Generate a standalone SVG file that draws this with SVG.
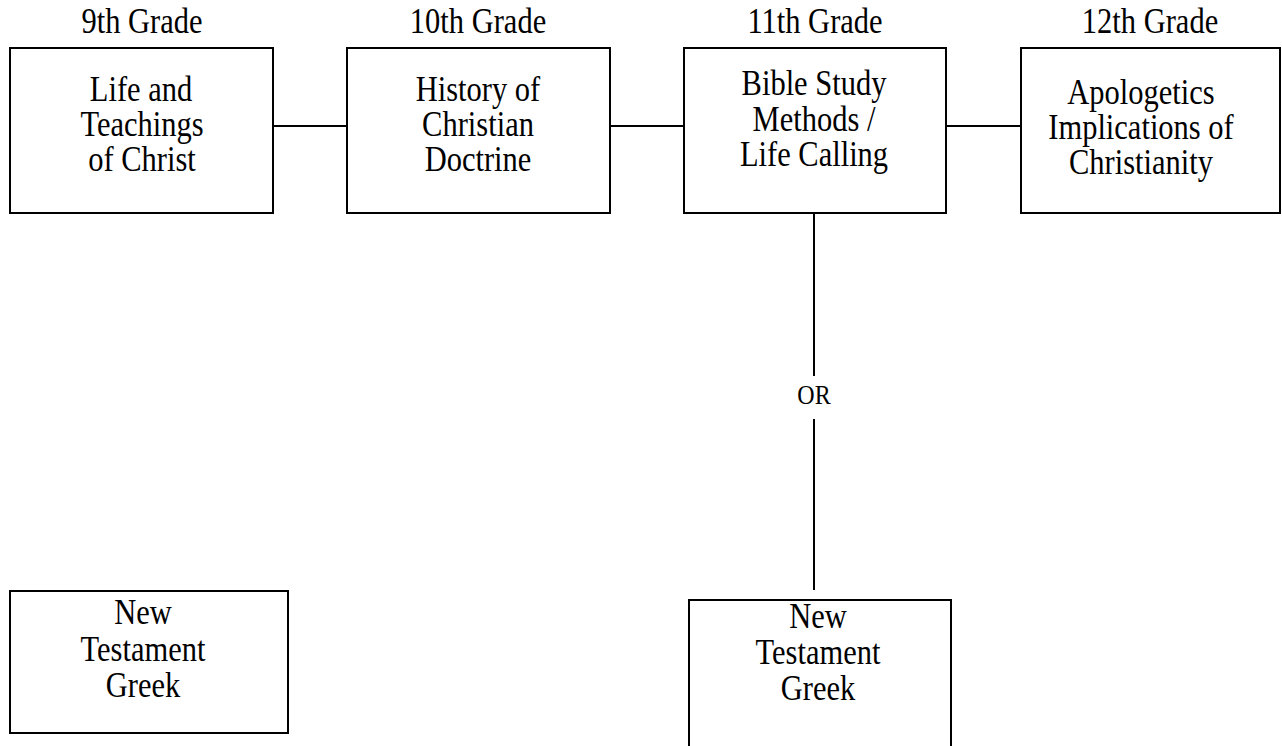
<svg xmlns="http://www.w3.org/2000/svg" width="1282" height="746" viewBox="0 0 1282 746">
<style>
  .box { fill: #ffffff; stroke: #000000; stroke-width: 2; }
  .conn { stroke: #000000; stroke-width: 2; fill: none; }
  text { font-family: "Liberation Serif", "Times New Roman", serif; fill: #000000; text-anchor: middle; }
  .t { font-size: 30.5px; }
  .or { font-size: 24px; }
</style>
<rect x="0" y="0" width="1282" height="746" fill="#ffffff"/>
<g id="labels">
  <text class="t" transform="matrix(1 0 0 1.15 142 33)">9th Grade</text>
  <text class="t" transform="matrix(1 0 0 1.15 478 33)">10th Grade</text>
  <text class="t" transform="matrix(1 0 0 1.15 815 33)">11th Grade</text>
  <text class="t" transform="matrix(1 0 0 1.15 1150 33)">12th Grade</text>
</g>
<g id="connectors">
  <line class="conn" x1="273" y1="126" x2="347" y2="126"/>
  <line class="conn" x1="610" y1="126" x2="684" y2="126"/>
  <line class="conn" x1="946" y1="126" x2="1021" y2="126"/>
  <line class="conn" x1="814" y1="213" x2="814" y2="376"/>
  <line class="conn" x1="814" y1="419" x2="814" y2="590"/>
  <text class="or" transform="matrix(1 0 0 1.15 814 404)">OR</text>
</g>
<g id="node-life">
  <rect class="box" x="10" y="48" width="263" height="165"/>
  <text class="t" transform="matrix(1 0 0 1.15 141 101)">Life and</text>
  <text class="t" transform="matrix(1 0 0 1.15 142 136)">Teachings</text>
  <text class="t" transform="matrix(1 0 0 1.15 142 171)">of Christ</text>
</g>
<g id="node-history">
  <rect class="box" x="347" y="48" width="263" height="165"/>
  <text class="t" transform="matrix(1 0 0 1.15 478 101)">History of</text>
  <text class="t" transform="matrix(1 0 0 1.15 478 136)">Christian</text>
  <text class="t" transform="matrix(1 0 0 1.15 478 171)">Doctrine</text>
</g>
<g id="node-bible">
  <rect class="box" x="684" y="48" width="262" height="165"/>
  <text class="t" transform="matrix(1 0 0 1.15 814 95)">Bible Study</text>
  <text class="t" transform="matrix(1 0 0 1.15 814 131)">Methods /</text>
  <text class="t" transform="matrix(1 0 0 1.15 814 166)">Life Calling</text>
</g>
<g id="node-apologetics">
  <rect class="box" x="1021" y="48" width="259" height="165"/>
  <text class="t" transform="matrix(1 0 0 1.15 1141 104)">Apologetics</text>
  <text class="t" transform="matrix(1 0 0 1.15 1141 139)">Implications of</text>
  <text class="t" transform="matrix(1 0 0 1.15 1141 174)">Christianity</text>
</g>
<g id="node-greek-left">
  <rect class="box" x="10" y="591" width="278" height="142"/>
  <text class="t" transform="matrix(1 0 0 1.15 143 624)">New</text>
  <text class="t" transform="matrix(1 0 0 1.15 143 661)">Testament</text>
  <text class="t" transform="matrix(1 0 0 1.15 143 697)">Greek</text>
</g>
<g id="node-greek-right">
  <rect class="box" x="689" y="600" width="262" height="170"/>
  <text class="t" transform="matrix(1 0 0 1.15 818 628)">New</text>
  <text class="t" transform="matrix(1 0 0 1.15 818 664)">Testament</text>
  <text class="t" transform="matrix(1 0 0 1.15 818 700)">Greek</text>
</g>
</svg>
